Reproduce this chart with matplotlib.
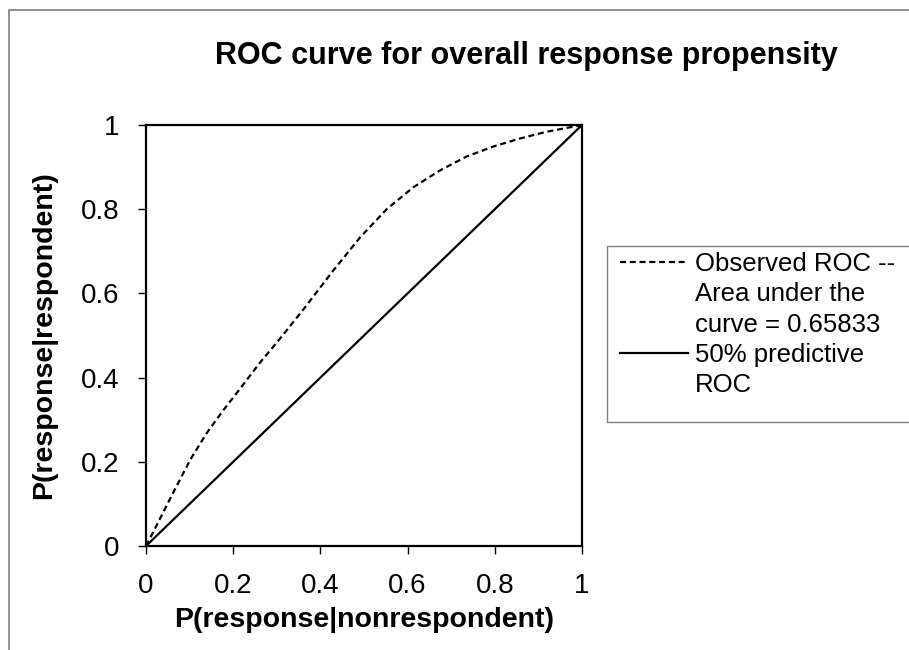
import matplotlib
matplotlib.use("Agg")
import matplotlib.pyplot as plt
from matplotlib.lines import Line2D
from matplotlib.patches import Rectangle

plt.rcParams['font.family'] = ['Liberation Sans', 'DejaVu Sans']

# Observed ROC curve
fpr = [0, 0.017, 0.063, 0.101, 0.139, 0.177, 0.216, 0.261, 0.307, 0.361, 0.430, 0.491,
       0.552, 0.613, 0.674, 0.735, 0.797, 0.858, 0.919, 1.0]
tpr = [0, 0.034, 0.128, 0.204, 0.268, 0.322, 0.374, 0.435, 0.492, 0.562, 0.655, 0.733,
       0.800, 0.852, 0.892, 0.925, 0.949, 0.968, 0.984, 1.0]
# 50% predictive ROC
ref_x = [0, 1]
ref_y = [0, 1]
ticks = [0, 0.2, 0.4, 0.6, 0.8, 1]
tick_labels = ["0", "0.2", "0.4", "0.6", "0.8", "1"]

title = "ROC curve for overall response propensity"
xlabel = "P(response|nonrespondent)"
ylabel = "P(response|respondent)"
legend_obs = "Observed ROC --\nArea under the\ncurve = 0.65833"
legend_ref = "50% predictive\nROC"

W, H = 909, 650
fig = plt.figure(figsize=(W / 100, H / 100), dpi=100)

def fx(px):
    return px / W

def fy(py):
    return 1 - py / H

# outer chart-area frame (cropped)
fig.add_artist(Rectangle((fx(9), -0.1), 1.2, fy(10) + 0.1, transform=fig.transFigure,
                         fill=False, edgecolor="#7f7f7f", linewidth=1.2))

x0, x1, y0, y1 = 146, 582, 546, 125
ax = fig.add_axes([fx(x0), fy(y0), (x1 - x0) / W, (y0 - y1) / H])
dash = (0, (2.7, 1.7))
ax.plot(fpr, tpr, color="black", linestyle=dash, linewidth=1.6)
ax.plot(ref_x, ref_y, color="black", linestyle="-", linewidth=1.6)
ax.set_xlim(0, 1)
ax.set_ylim(0, 1)
ax.set_xticks(ticks)
ax.set_xticklabels(tick_labels)
ax.set_yticks(ticks)
ax.set_yticklabels(tick_labels)
ax.tick_params(labelsize=20, length=5.8, width=1.0, direction="out", pad=13.5)
for s in ax.spines.values():
    s.set_linewidth(1.6)
ax.set_xlabel(xlabel, fontsize=20.5, fontweight="bold", va="baseline")
ax.xaxis.set_label_coords(0.5, (y0 - 627) / (y0 - y1))
ax.set_ylabel(ylabel, fontsize=20.5, fontweight="bold", va="baseline")
ax.yaxis.set_label_coords((51 - x0) / (x1 - x0), 0.5)

fig.text(fx(526), fy(56), title, ha="center", va="center", fontsize=22, fontweight="bold")

# legend box (cropped at right)
fig.add_artist(Rectangle((fx(607), fy(422)), 0.6, (422 - 246) / H, transform=fig.transFigure,
                         fill=False, edgecolor="#7f7f7f", linewidth=1.0))
line_gap = 30.3
first = 262
entries = [(legend_obs, dash, first), (legend_ref, "-", first + 3 * line_gap)]
for label, ls, yc in entries:
    fig.add_artist(Line2D([fx(620), fx(688)], [fy(yc), fy(yc)], transform=fig.transFigure,
                          color="black", linestyle=ls, linewidth=1.6))
    for i, part in enumerate(label.split("\n")):
        fig.text(fx(695), fy(yc + i * line_gap + 9.2), part, ha="left", va="baseline",
                 fontsize=18.5)

fig.savefig("out.png", dpi=100)
